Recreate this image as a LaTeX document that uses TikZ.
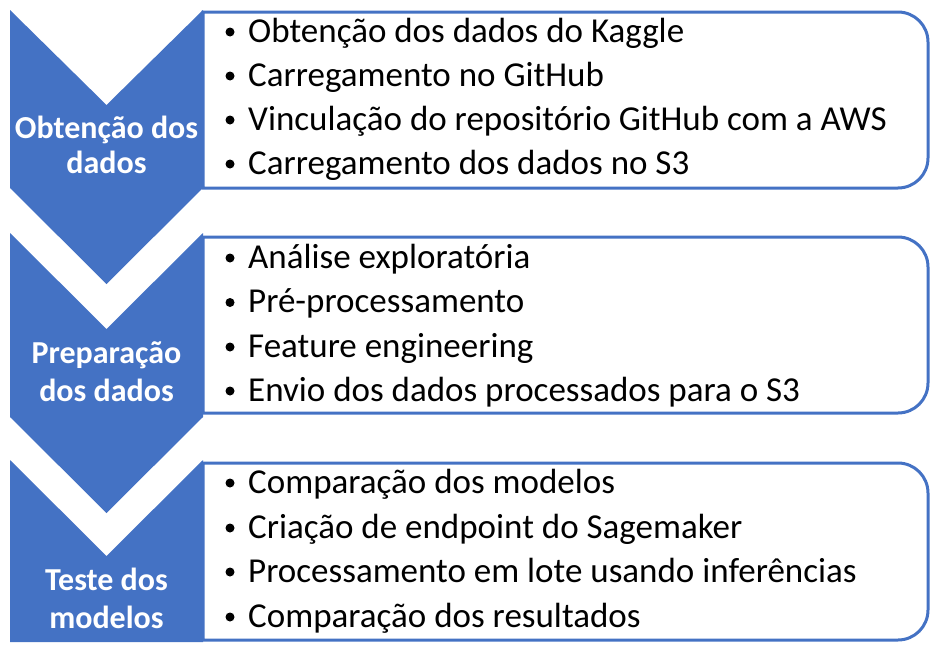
\documentclass[tikz,border=0pt]{standalone}
\usepackage{fontspec}
\setmainfont{Carlito}
\definecolor{sablue}{HTML}{4472C4}
\tikzset{
  chev/.style={fill=sablue,draw=none},
  panel/.style={draw=sablue,line width=3pt,fill=white},
  itemtxt/.style={anchor=base west,inner sep=0pt,font=\fontsize{35}{40}\selectfont,text=black},
  bul/.style={circle,fill=black,inner sep=0pt,minimum size=9pt},
  lbl/.style={anchor=base,inner sep=0pt,font=\fontsize{32}{38}\selectfont\bfseries,text=white}
}
\begin{document}
\begin{tikzpicture}[x=1pt,y=1pt]
\useasboundingbox (0,0) rectangle (938,-653);
% chevrons
\fill[chev] (10,-10) -- (106.5,-105) -- (203,-10) -- (203,-188) -- (106.5,-284) -- (10,-188) -- cycle;
\fill[chev] (10,-233) -- (106.5,-329) -- (203,-233) -- (203,-417) -- (106.5,-513) -- (10,-417) -- cycle;
\fill[chev] (10,-460) -- (106.5,-556) -- (203,-460) -- (203,-642) -- (10,-642) -- cycle;
% panels
\draw[panel] (203,-12) -- (898,-12) arc[start angle=90,end angle=0,radius=30] -- (928,-158) arc[start angle=0,end angle=-90,radius=30] -- (203,-188) -- cycle;
\draw[panel] (203,-237) -- (898,-237) arc[start angle=90,end angle=0,radius=30] -- (928,-383) arc[start angle=0,end angle=-90,radius=30] -- (203,-413) -- cycle;
\draw[panel] (203,-463) -- (898,-463) arc[start angle=90,end angle=0,radius=30] -- (928,-610) arc[start angle=0,end angle=-90,radius=30] -- (203,-640) -- cycle;
% labels
\node[lbl] (l1a) at (106.5,-138) {Obtenção dos};
\node[lbl] (l1b) at (106.5,-173) {dados};
\node[lbl] (l2a) at (106.5,-363) {Preparação};
\node[lbl] (l2b) at (106.5,-401) {dos dados};
\node[lbl] (l3a) at (106.5,-590) {Teste dos};
\node[lbl] (l3b) at (106.5,-628) {modelos};
% items panel 1
\node[bul] (b11) at (230,-32) {}; \node[itemtxt] (t11) at (248,-42) {Obtenção dos dados do Kaggle};
\node[bul] (b12) at (230,-76) {}; \node[itemtxt] (t12) at (248,-86) {Carregamento no GitHub};
\node[bul] (b13) at (230,-120) {}; \node[itemtxt] (t13) at (248,-130) {Vinculação do repositório GitHub com a AWS};
\node[bul] (b14) at (230,-164) {}; \node[itemtxt] (t14) at (248,-174) {Carregamento dos dados no S3};
% items panel 2
\node[bul] (b21) at (230,-258) {}; \node[itemtxt] (t21) at (248,-268) {Análise exploratória};
\node[bul] (b22) at (230,-302.5) {}; \node[itemtxt] (t22) at (248,-312.5) {Pré-processamento};
\node[bul] (b23) at (230,-347) {}; \node[itemtxt] (t23) at (248,-357) {Feature engineering};
\node[bul] (b24) at (230,-391) {}; \node[itemtxt] (t24) at (248,-401) {Envio dos dados processados para o S3};
% items panel 3
\node[bul] (b31) at (230,-483) {}; \node[itemtxt] (t31) at (248,-493) {Comparação dos modelos};
\node[bul] (b32) at (230,-528) {}; \node[itemtxt] (t32) at (248,-538) {Criação de endpoint do Sagemaker};
\node[bul] (b33) at (230,-572) {}; \node[itemtxt] (t33) at (248,-582) {Processamento em lote usando inferências};
\node[bul] (b34) at (230,-617) {}; \node[itemtxt] (t34) at (248,-627) {Comparação dos resultados};
\end{tikzpicture}
\end{document}
